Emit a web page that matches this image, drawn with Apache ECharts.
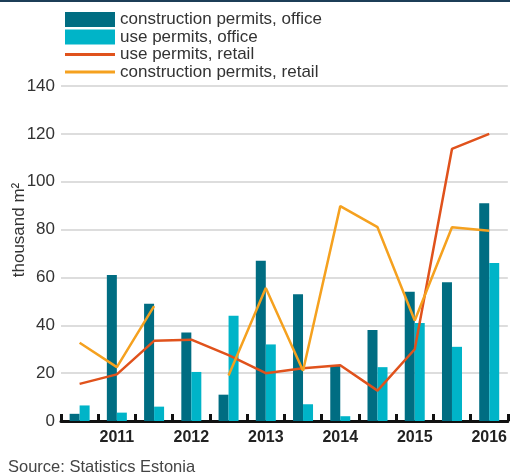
<!DOCTYPE html>
<html>
<head>
<meta charset="utf-8">
<script src="https://cdn.jsdelivr.net/npm/echarts@6/dist/echarts.min.js"></script>
<style>
	html, body { margin: 0; padding: 0; background: #fff; }
	#main { width: 510px; height: 475px; }
</style>
</head>
<body>
<div id="main"></div>
<script>
	// half years, label only on one half of each year
	var categories = ['', '2011', '', '2012', '', '2013', '', '2014', '', '2015', '', '2016'];
	var yTicks = [0, 20, 40, 60, 80, 100, 120, 140];

	var constrOffice = [3, 61, 49, 37, 11, 67, 53, 23, 38, 54, 58, 91];
	var useOffice = [6.5, 3.5, 6, 20.5, 44, 32, 7, 2, 22.5, 41, 31, 66];
	var useRetail = [15.5, 19.5, 33.5, 34, 27.5, 20, 22, 23.3, 12.7, 30, 113.7, 120];
	var constrRetail = [32.7, 22.5, 48, null, 19, 55.6, 21, 89.8, 81, 42, 81, 79.5];

	var chart = echarts.init(document.getElementById('main'));
	var fnt = 'Liberation Sans, Arial, sans-serif';
	var lineIcon = 'path://M0,0H50V3H0Z';

	var option = {
		animation: false,
		textStyle: {fontFamily: fnt},
		graphic: [
			{type: 'rect', left: 0, top: 0, shape: {width: 510, height: 2}, style: {fill: '#1c3d57'}},
			{type: 'text', left: 8, top: 459, style: {text: 'Source: Statistics Estonia', fill: '#444', font: '16.5px ' + fnt}},
			{type: 'text', x: 19, y: 230, rotation: Math.PI / 2, style: {text: 'thousand m²', fill: '#333', font: '17px ' + fnt, align: 'center', verticalAlign: 'middle'}}
		],
		legend: {
			orient: 'vertical',
			left: 60,
			top: 6,
			itemWidth: 50,
			itemHeight: 15,
			itemGap: 0.5,
			symbolKeepAspect: true,
			textStyle: {fontSize: 17, lineHeight: 17, color: '#333'},
			data: [
				{name: 'construction permits, office', icon: 'rect'},
				{name: 'use permits, office', icon: 'rect'},
				{name: 'use permits, retail', icon: lineIcon},
				{name: 'construction permits, retail', icon: lineIcon}
			]
		},
		grid: {left: 61, right: 2, top: 86, bottom: 54, containLabel: false},
		xAxis: {
			type: 'category',
			data: categories,
			axisLine: {lineStyle: {color: '#111', width: 3}},
			axisTick: {show: true, inside: true, length: 7, lineStyle: {color: '#111', width: 3}, interval: 0},
			axisLabel: {interval: 0, margin: 9, fontSize: 16, fontWeight: 'bold', color: '#222'}
		},
		yAxis: {
			type: 'value',
			min: yTicks[0],
			max: yTicks[yTicks.length - 1],
			interval: 20,
			axisLine: {show: false},
			axisTick: {show: false},
			axisLabel: {fontSize: 17, color: '#333', margin: 6},
			splitLine: {lineStyle: {color: '#d2d2d2', width: 1.5}}
		},
		series: [
			{
				name: 'construction permits, office',
				type: 'bar',
				data: constrOffice,
				barWidth: 10,
				barGap: '0%',
				itemStyle: {color: '#006d82'}
			}, {
				name: 'use permits, office',
				type: 'bar',
				data: useOffice,
				barWidth: 10,
				barGap: '0%',
				itemStyle: {color: '#00b4c8'}
			}, {
				name: 'use permits, retail',
				type: 'line',
				data: useRetail,
				symbol: 'none',
				lineStyle: {color: '#e0521c', width: 2.5},
				itemStyle: {color: '#e0521c'}
			}, {
				name: 'construction permits, retail',
				type: 'line',
				data: constrRetail,
				symbol: 'none',
				connectNulls: false,
				lineStyle: {color: '#f5a11f', width: 2.5},
				itemStyle: {color: '#f5a11f'}
			}
		]
	};
	chart.setOption(option);
</script>
</body>
</html>
